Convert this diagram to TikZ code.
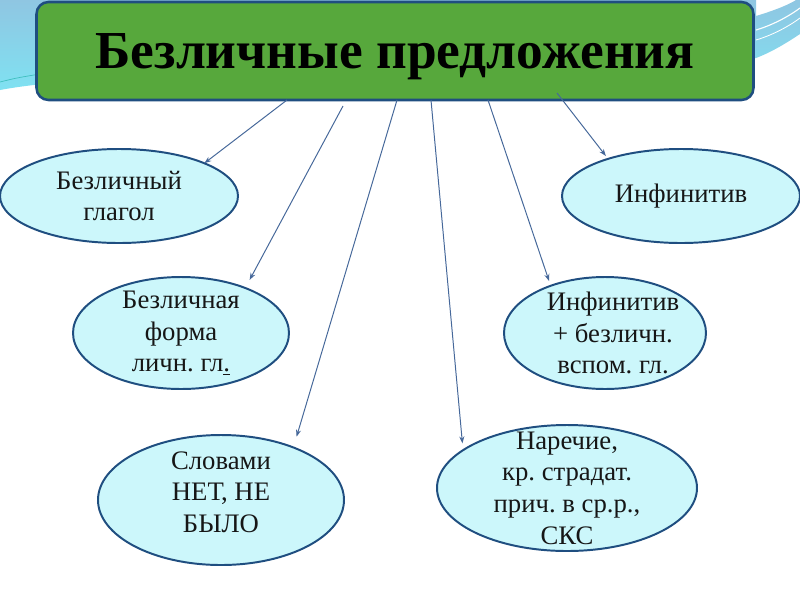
\documentclass[tikz,border=0pt]{standalone}
\usepackage{fontspec}
\setmainfont{Liberation Serif}
\usetikzlibrary{arrows.meta,calc,positioning,shapes.geometric}
\definecolor{ink}{HTML}{161616}
\definecolor{leaf}{HTML}{57A83C}
\definecolor{navy}{HTML}{1F4E80}
\definecolor{ice}{HTML}{CCF7FB}
\definecolor{wire}{HTML}{46689A}
\definecolor{skyA}{HTML}{8FC6E2}
\definecolor{skyB}{HTML}{7FE2F2}
\definecolor{skyC}{HTML}{3FBFBF}
\frenchspacing

\begin{document}
\begin{tikzpicture}[
  oval/.style={ellipse,draw=navy,fill=ice,line width=1.4pt,inner sep=0pt,outer sep=0pt},
  txt/.style={font=\fontsize{19}{22.5}\selectfont,align=center,text=ink},
  conn/.style={-{Stealth[length=5pt,width=3.6pt]},line width=0.7pt,color=wire}]
  \useasboundingbox (0,0) rectangle (20,-15);
  \fill[white] (0,0) rectangle (20,-15);

  % background swoosh
  \shade[top color=skyA,bottom color=skyB] (0,0) -- (18.9,0) -- (18.9,-0.4)
    .. controls (19.4,-0.25) and (19.75,-0.1) .. (19.9,0) -- (20,0) -- (20,-0.85)
    .. controls (19.7,-1.05) and (19.3,-1.3) .. (18.9,-1.45)
    .. controls (15,-2.3) and (4,-1.5) .. (0,-2.25) -- cycle;
  \draw[skyC,line width=0.5pt] (0,-2.05) .. controls (0.4,-1.95) .. (1,-1.85);
  \draw[white,line width=0.8pt] (18.9,-0.75) .. controls (19.4,-0.6) and (19.8,-0.35) .. (20,-0.2);
  \draw[white,line width=0.6pt] (18.9,-1.0) .. controls (19.4,-0.85) and (19.8,-0.6) .. (20,-0.45);

  \node[draw=navy,fill=leaf,line width=1.8pt,rounded corners=0.3cm,minimum width=17.925cm,
    minimum height=2.45cm,text depth=0pt,font=\fontsize{38}{40}\selectfont\bfseries,text=black] (title) at (9.875,-1.275) {Безличные предложения};

  \node[oval,minimum width=5.95cm,minimum height=2.35cm] (glagol) at (2.975,-4.9) {};
  \node[txt] (glagoltxt) at (glagol) {Безличный\\глагол};

  \node[oval,minimum width=5.4cm,minimum height=2.8cm] (forma) at (4.525,-8.325) {};
  \node[txt] (formatxt) at (forma) {Безличная\\форма\\личн. гл\underline{.}};

  \node[oval,minimum width=6.15cm,minimum height=3.25cm] (net) at (5.525,-12.5) {};
  \node[txt] (nettxt) at ($(net)+(0,0.2)$) {Словами\\НЕТ, НЕ\\БЫЛО};

  \node[oval,minimum width=6.5cm,minimum height=3.15cm] (narech) at (14.175,-12.2) {};
  \node[txt] (narechtxt) at (narech) {Наречие,\\кр. страдат.\\прич. в ср.р.,\\СКС};

  \node[oval,minimum width=5.95cm,minimum height=2.35cm] (inf) at (17.025,-4.9) {};
  \node[txt] (inftxt) at (inf) {Инфинитив};

  \node[oval,minimum width=5.05cm,minimum height=2.8cm] (infplus) at (15.125,-8.325) {};
  \node[txt] (infplustxt) at ($(infplus)+(0.2,0)$) {Инфинитив\\+ безличн.\\вспом. гл.};

  \coordinate (s1) at (7.175,-2.5);
  \coordinate (s2) at (8.575,-2.65);
  \coordinate (s3) at (9.925,-2.5);
  \coordinate (s4) at (10.775,-2.5);
  \coordinate (s5) at (12.2,-2.5);
  \coordinate (s6) at (13.925,-2.325);

  \foreach \s/\e/\sh in {s1/glagol.21/0,s2/forma.35/0.23,s3/net.36/0.28,s4/narech.160/0.17,s5/infplus.139/0.125,s6/inf.153/0.09}
    \draw[conn,shorten >=\sh cm] (\s) -- (\e);
\end{tikzpicture}
\end{document}
